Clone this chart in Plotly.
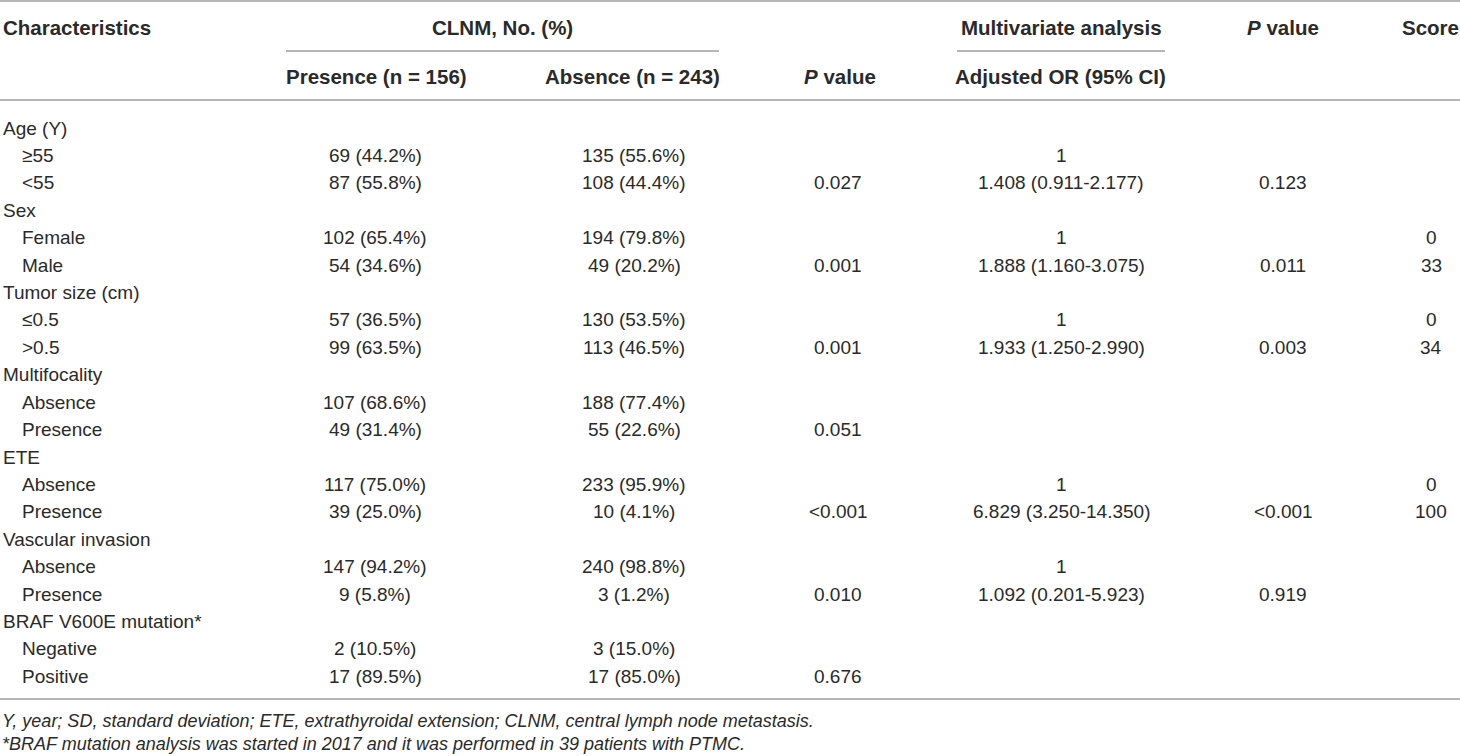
import plotly.graph_objects as go

# Table content
characteristics = [
    "Age (Y)", "≥55", "<55",
    "Sex", "Female", "Male",
    "Tumor size (cm)", "≤0.5", ">0.5",
    "Multifocality", "Absence", "Presence",
    "ETE", "Absence", "Presence",
    "Vascular invasion", "Absence", "Presence",
    "BRAF V600E mutation*", "Negative", "Positive",
]
is_group = [True, False, False] * 7

presence = [
    "", "69 (44.2%)", "87 (55.8%)",
    "", "102 (65.4%)", "54 (34.6%)",
    "", "57 (36.5%)", "99 (63.5%)",
    "", "107 (68.6%)", "49 (31.4%)",
    "", "117 (75.0%)", "39 (25.0%)",
    "", "147 (94.2%)", "9 (5.8%)",
    "", "2 (10.5%)", "17 (89.5%)",
]
absence = [
    "", "135 (55.6%)", "108 (44.4%)",
    "", "194 (79.8%)", "49 (20.2%)",
    "", "130 (53.5%)", "113 (46.5%)",
    "", "188 (77.4%)", "55 (22.6%)",
    "", "233 (95.9%)", "10 (4.1%)",
    "", "240 (98.8%)", "3 (1.2%)",
    "", "3 (15.0%)", "17 (85.0%)",
]
p_univariate = [
    "", "", "0.027",
    "", "", "0.001",
    "", "", "0.001",
    "", "", "0.051",
    "", "", "<0.001",
    "", "", "0.010",
    "", "", "0.676",
]
adjusted_or = [
    "", "1", "1.408 (0.911-2.177)",
    "", "1", "1.888 (1.160-3.075)",
    "", "1", "1.933 (1.250-2.990)",
    "", "", "",
    "", "1", "6.829 (3.250-14.350)",
    "", "1", "1.092 (0.201-5.923)",
    "", "", "",
]
p_multivariate = [
    "", "", "0.123",
    "", "", "0.011",
    "", "", "0.003",
    "", "", "",
    "", "", "<0.001",
    "", "", "0.919",
    "", "", "",
]
score = [
    "", "", "",
    "", "0", "33",
    "", "0", "34",
    "", "", "",
    "", "0", "100",
    "", "", "",
    "", "", "",
]

footnotes = [
    "Y, year; SD, standard deviation; ETE, extrathyroidal extension; CLNM, central lymph node metastasis.",
    "*BRAF mutation analysis was started in 2017 and it was performed in 39 patients with PTMC.",
]

W, H = 1460, 756
FONT = "Liberation Sans, Arial, sans-serif"
TXT = "#2a2a2a"
LINE = "#9c9c9c"
DATA_SIZE = 19
HEAD_SIZE = 20.5

# column centres (pixel space of the axes)
col_x = {"pres": 375, "abs": 634, "p1": 838, "or": 1061, "p2": 1283, "score": 1431}
row_y0, row_step = 128, 27.42

fig = go.Figure()
annotations = []


def add_text(x, y, text, size=DATA_SIZE, anchor="center", bold=False, italic=False):
    if bold:
        text = f"<b>{text}</b>"
    if italic:
        text = f"<i>{text}</i>"
    annotations.append(dict(
        x=x, y=y, xref="x", yref="y", text=text, showarrow=False,
        xanchor=anchor, yanchor="middle",
        font=dict(family=FONT, size=size, color=TXT),
    ))


# header row 1
add_text(1, 27, "Characteristics", HEAD_SIZE, "left", bold=True)
add_text(502, 27, "CLNM, No. (%)", HEAD_SIZE, bold=True)
add_text(col_x["or"], 27, "Multivariate analysis", HEAD_SIZE, bold=True)
add_text(col_x["p2"], 27, "<i>P</i> value", HEAD_SIZE, bold=True)
add_text(1430, 27, "Score", HEAD_SIZE, bold=True)
# header row 2
add_text(376, 76, "Presence (n = 156)", HEAD_SIZE, bold=True)
add_text(632, 76, "Absence (n = 243)", HEAD_SIZE, bold=True)
add_text(840, 76, "<i>P</i> value", HEAD_SIZE, bold=True)
add_text(1060, 76, "Adjusted OR (95% CI)", HEAD_SIZE, bold=True)

# body rows
for i, label in enumerate(characteristics):
    y = row_y0 + i * row_step
    add_text(1 if is_group[i] else 20, y, label, anchor="left")
    for key, col in [("pres", presence), ("abs", absence), ("p1", p_univariate),
                     ("or", adjusted_or), ("p2", p_multivariate), ("score", score)]:
        if col[i]:
            add_text(col_x[key], y, col[i])

# footnotes
add_text(0, 721, footnotes[0], 18, "left", italic=True)
add_text(0, 744, footnotes[1], 18, "left", italic=True)

# rules
shapes = []
for x0, x1, y in [(0, W, 1), (286, 719, 51), (957, 1165, 51), (0, W, 100), (0, W, 699)]:
    shapes.append(dict(type="line", xref="x", yref="y", x0=x0, x1=x1, y0=y, y1=y,
                       line=dict(color=LINE, width=1.4)))

fig.update_layout(
    width=W, height=H,
    margin=dict(l=0, r=0, t=0, b=0),
    paper_bgcolor="white", plot_bgcolor="white",
    xaxis=dict(range=[0, W], visible=False, fixedrange=True),
    yaxis=dict(range=[H, 0], visible=False, fixedrange=True),
    annotations=annotations, shapes=shapes, showlegend=False,
)

# page body has a default margin, drop it so the figure fills the window
fig.write_html("out.html", config={"displayModeBar": False},
               post_script="document.body.style.margin='0';document.body.style.overflow='hidden';")
